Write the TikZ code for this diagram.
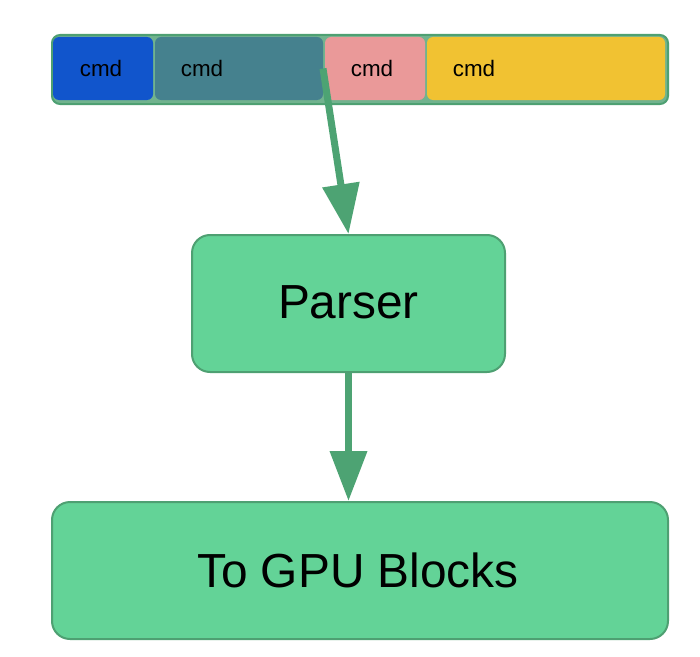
\documentclass[tikz,border=0pt]{standalone}
\usepackage{fontspec}
\setmainfont{Liberation Sans}
\usetikzlibrary{arrows.meta}
\definecolor{gfill}{HTML}{63D397}
\definecolor{gline}{HTML}{4EA072}
\definecolor{garrow}{HTML}{4DA373}
\definecolor{cblue}{HTML}{1155CC}
\definecolor{cteal}{HTML}{45818E}
\definecolor{cpink}{HTML}{EA9999}
\definecolor{cyellow}{HTML}{F1C232}
\tikzset{
  seg/.style={anchor=north west, inner sep=0pt, outer sep=0pt, rounded corners=6bp, minimum height=63bp},
  cmdtext/.style={font=\fontsize{22.5}{26}\selectfont, inner sep=0pt, anchor=base},
  box/.style={draw=gline, line width=2bp, fill=gfill, rounded corners=18bp, inner sep=0pt, anchor=north west},
  big/.style={font=\fontsize{48}{56}\selectfont},
  flow/.style={draw=garrow, line width=7bp, -{Triangle[length=50bp,width=36bp]}, shorten >=0pt},
}
\begin{document}
\begin{tikzpicture}[x=1bp,y=-1bp]
\useasboundingbox (0,0) rectangle (700,657);
% command bar
\node[draw=gline, fill=gline!80, line width=2bp, rounded corners=8bp, inner sep=0pt, anchor=north west, minimum width=616bp, minimum height=69bp] (bar) at (51,34) {};
\node[seg, fill=cblue, minimum width=100bp] (s1) at (53,37) {};
\node[seg, fill=cteal, minimum width=168bp] (s2) at (155,37) {};
\node[seg, fill=cpink, minimum width=100bp] (s3) at (325,37) {};
\node[seg, fill=cyellow, minimum width=238bp] (s4) at (427,37) {};
\node[cmdtext] (t1) at (101,77) {cmd};
\node[cmdtext] (t2) at (202,77) {cmd};
\node[cmdtext] (t3) at (372,77) {cmd};
\node[cmdtext] (t4) at (474,77) {cmd};
% parser
\node[box, minimum width=313bp, minimum height=137bp] (parser) at (191,234) {};
\node[big] (ptext) at ([yshift=1bp]parser.center) {Parser};
% gpu blocks
\node[box, minimum width=616bp, minimum height=137bp] (gpu) at (51,501) {};
\node[big] (gtext) at ([xshift=-2bp]gpu.center) {To GPU Blocks};
% arrows
\coordinate (a1) at (s2.east);
\draw[flow] (a1) -- (parser.north);
\draw[flow] (parser.south) -- (parser.south |- gpu.north);
\end{tikzpicture}
\end{document}
